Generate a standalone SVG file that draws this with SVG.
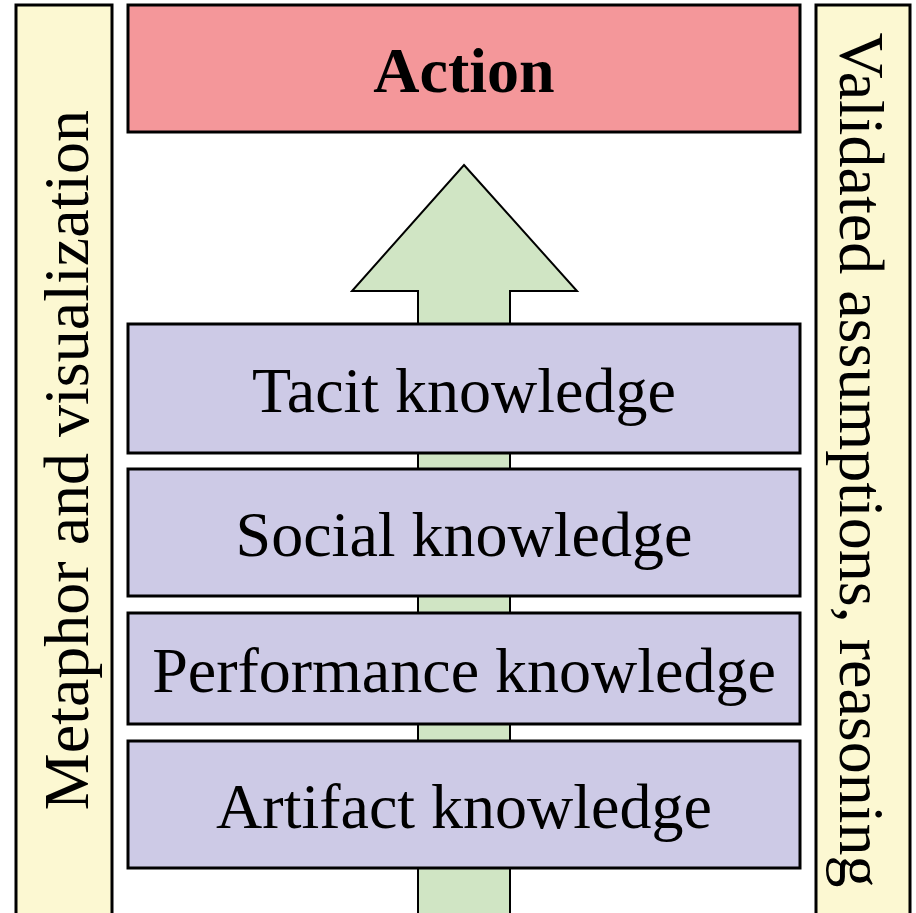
<svg xmlns="http://www.w3.org/2000/svg" width="916" height="913" viewBox="0 0 916 913">
<style>
.side{fill:#FCF8D2;stroke:#000;stroke-width:3}
.know{fill:#CDCAE6;stroke:#000;stroke-width:3}
.t{font-family:"Liberation Serif","Times New Roman",serif;font-size:64px;fill:#000;text-anchor:middle}
</style>
<rect width="916" height="913" fill="#fff"/>
<g id="connectors">
<path id="arrow" d="M464,165 L577,291 L510,291 L510,920 L418,920 L418,291 L352,291 Z" fill="#D0E5C4" stroke="#000" stroke-width="2"/>
</g>
<g id="left-bar"><rect class="side" x="16" y="5" width="96" height="920"/>
<text class="t" transform="translate(88,460) rotate(-90)">Metaphor and visualization</text></g>
<g id="right-bar"><rect class="side" x="816" y="5" width="94" height="920"/>
<text class="t" transform="translate(840,460) rotate(90)">Validated assumptions, reasoning</text></g>
<g id="action"><rect x="128" y="5" width="672" height="127" fill="#F4979A" stroke="#000" stroke-width="3"/>
<text class="t" x="464" y="92" font-weight="bold">Action</text></g>
<g id="tacit"><rect class="know" x="128" y="324" width="672" height="129"/>
<text class="t" x="464" y="412">Tacit knowledge</text></g>
<g id="social"><rect class="know" x="128" y="469" width="672" height="127"/>
<text class="t" x="464" y="556">Social knowledge</text></g>
<g id="performance"><rect class="know" x="128" y="613" width="672" height="111"/>
<text class="t" x="464" y="692">Performance knowledge</text></g>
<g id="artifact"><rect class="know" x="128" y="741" width="672" height="127"/>
<text class="t" x="464" y="828">Artifact knowledge</text></g>
</svg>
